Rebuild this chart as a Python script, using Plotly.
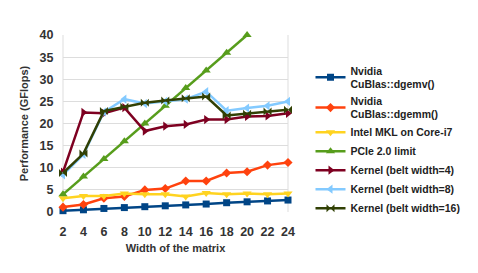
import plotly.graph_objects as go

widths = [2, 4, 6, 8, 10, 12, 14, 16, 18, 20, 22, 24]
dgemv = [0.3, 0.5, 0.8, 1.0, 1.2, 1.4, 1.6, 1.8, 2.1, 2.3, 2.5, 2.7]
dgemm = [1.1, 1.7, 3.1, 3.5, 5.0, 5.3, 7.0, 7.0, 8.8, 9.1, 10.6, 11.2]
mkl = [3.1, 3.6, 3.6, 4.2, 4.0, 4.0, 3.5, 4.3, 4.0, 4.2, 4.0, 4.2]
pcie_w = [2, 4, 6, 8, 10, 12, 14, 16, 18, 20]
pcie = [4, 8, 12, 16, 20, 24, 28, 32, 36, 40]
k4 = [9.0, 22.5, 22.3, 23.6, 18.3, 19.4, 19.8, 20.9, 20.9, 21.6, 21.7, 22.3]
k8 = [8.4, 13.0, 22.6, 25.5, 24.5, 25.0, 25.5, 27.2, 22.9, 23.5, 24.0, 25.0]
k16 = [8.8, 13.2, 22.8, 23.8, 24.7, 25.2, 25.7, 26.1, 21.8, 22.2, 22.7, 23.1]

series = [
    ("Nvidia<br>CuBlas::dgemv()", widths, dgemv, "#004586", "square", 7),
    ("Nvidia<br>CuBlas::dgemm()", widths, dgemm, "#ff420e", "diamond", 7),
    ("Intel MKL on Core-i7", widths, mkl, "#ffd320", "triangle-down", 8),
    ("PCIe 2.0 limit", pcie_w, pcie, "#579d1c", "triangle-up", 8),
    ("Kernel (belt width=4)", widths, k4, "#7e0021", "triangle-right", 8),
    ("Kernel (belt width=8)", widths, k8, "#83caff", "triangle-left", 8),
    ("Kernel (belt width=16)", widths, k16, "#314004", "bowtie", 8),
]

fig = go.Figure()
for name, xs, ys, color, sym, sz in series:
    fig.add_trace(go.Scatter(
        x=xs, y=ys, name=name, mode="lines+markers",
        line=dict(color=color, width=2.5),
        marker=dict(symbol=sym, size=sz, color=color),
        cliponaxis=False,
    ))

fig.update_layout(
    width=478, height=273,
    margin=dict(l=63, r=188, t=35, b=61),
    paper_bgcolor="white", plot_bgcolor="white",
    font=dict(family="Liberation Sans, Arial, sans-serif", size=11, color="#333333", weight="bold"),
    showlegend=True,
    legend=dict(x=1.1, xanchor="left", y=0.875, yanchor="top",
                font=dict(size=10.5, color="#222222"), tracegroupgap=2,
                bgcolor="rgba(0,0,0,0)"),
    xaxis=dict(
        range=[2, 24], tickvals=widths, ticktext=[str(w) for w in widths],
        showgrid=False, zeroline=False, showline=False,
        title=dict(text="Width of the matrix", font=dict(size=11), standoff=6),
        tickfont=dict(size=12.5), ticks="outside", ticklen=8, tickcolor="rgba(0,0,0,0)",
    ),
    yaxis=dict(
        range=[0, 40], dtick=5, showgrid=True, gridcolor="#dddddd",
        zeroline=False, showline=False, ticks="outside", ticklen=6,
        tickcolor="rgba(0,0,0,0)",
        title=dict(text="Performance (GFlops)", font=dict(size=11), standoff=8),
        tickfont=dict(size=12.5),
    ),
    shapes=[
        dict(type="line", xref="paper", yref="paper", x0=0, x1=0, y0=0, y1=1,
             line=dict(color="#dddddd", width=1), layer="below"),
        dict(type="line", xref="paper", yref="paper", x0=1, x1=1, y0=0, y1=1,
             line=dict(color="#dddddd", width=1), layer="below"),
    ],
)

fig.write_html("out.html", config={"displayModeBar": False},
               post_script="document.body.style.margin='0';")
